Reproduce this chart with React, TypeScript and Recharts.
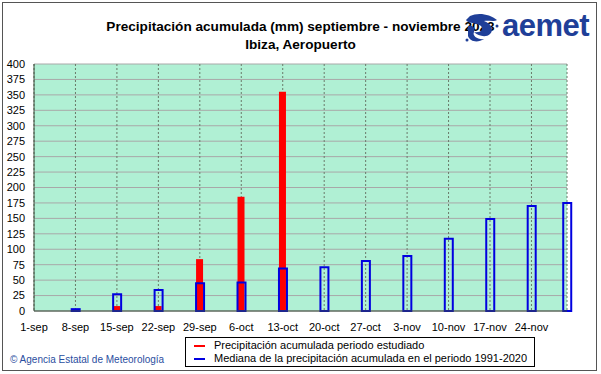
import React from 'react';
import { BarChart, Bar, XAxis, YAxis, CartesianGrid } from 'recharts';

// days since 1 September
const days = [0, 7, 14, 21, 28, 35, 42, 49, 56, 63, 70, 77, 84, 90];
const studied = [0, 0, 8, 8, 84, 185, 355, null, null, null, null, null, null, null];
const median = [0, 3, 27, 34, 45, 46, 69, 71, 81, 89, 117, 149, 170, 175];
const xTicks = [0, 7, 14, 21, 28, 35, 42, 49, 56, 63, 70, 77, 84];
const xTickLabels = ['1-sep', '8-sep', '15-sep', '22-sep', '29-sep', '6-oct', '13-oct', '20-oct', '27-oct', '3-nov', '10-nov', '17-nov', '24-nov'];
const yTicks = [0, 25, 50, 75, 100, 125, 150, 175, 200, 225, 250, 275, 300, 325, 350, 375, 400];

const series = [
  { name: 'Precipitación acumulada periodo estudiado', color: '#ff0000' },
  { name: 'Mediana de la precipitación acumulada en el periodo 1991-2020', color: '#0000e0' },
];

const data = days.map((d, i) => ({ day: d, studied: studied[i], median: median[i] }));

const FONT = '"Liberation Sans", Arial, sans-serif';

function LegendBox() {
  return (
    <div
      style={{
        position: 'absolute',
        left: 185,
        top: 337,
        border: '1px solid #000',
        background: '#fff',
        width: 350,
        height: 30,
        boxSizing: 'border-box',
        padding: '1px 0 0 8px',
        fontFamily: FONT,
        fontSize: 11,
        lineHeight: '13px',
        color: '#000',
      }}
    >
      {series.map((s) => (
        <div key={s.name} style={{ display: 'flex', alignItems: 'center' }}>
          <span style={{ display: 'inline-block', width: 11, height: 2, background: s.color, marginRight: 9 }} />
          <span>{s.name}</span>
        </div>
      ))}
    </div>
  );
}

function Logo() {
  return (
    <div style={{ position: 'absolute', left: 464, top: 12, display: 'flex', alignItems: 'center' }}>
      <svg width={36} height={32} viewBox="0 0 36 32">
        <path d="M6 4 C14 0 26 2 33 8 C30 10 24 8 20 9 C28 12 30 18 26 22 C22 26 14 24 10 20 C16 21 20 18 17 14 C12 10 4 12 2 8 Z" fill="#1f3f98" />
        <path d="M4 14 C8 12 12 16 10 20 C8 24 14 28 20 27 C14 31 6 30 4 24 Z" fill="#1f3f98" />
        <circle cx={3} cy={28} r={1.5} fill="#1f3f98" />
        <circle cx={33} cy={14} r={1.5} fill="#1f3f98" />
      </svg>
      <span style={{ fontFamily: FONT, fontWeight: 700, fontSize: 31, color: '#1f3f98', marginLeft: 2, marginTop: -4, letterSpacing: -0.5 }}>
        aemet
      </span>
    </div>
  );
}

export default function App() {
  return (
    <div style={{ position: 'absolute', left: 0, top: 0, width: 601, height: 374, background: '#fff', fontFamily: FONT }}>
      <div style={{ position: 'absolute', left: 2, top: 2, width: 595, height: 369, border: '1px solid #555', boxSizing: 'border-box' }} />
      <div style={{ position: 'absolute', left: 0, top: 18, width: 601, textAlign: 'center', fontWeight: 700, fontSize: 13.6, lineHeight: '18px', color: '#000' }}>
        <div>Precipitación acumulada (mm) septiembre - noviembre 2023</div>
        <div>Ibiza, Aeropuerto</div>
      </div>
      <div style={{ position: 'absolute', left: 0, top: 0 }}>
        <BarChart width={601} height={374} data={data} margin={{ top: 64, right: 34, bottom: 33, left: 4 }}>
          <CartesianGrid xAxisId="a" yAxisId="l" vertical={false} horizontal stroke="#a8a8a8" fill="#b0f0d4" fillOpacity={1} />
          <CartesianGrid xAxisId="a" yAxisId="l" horizontal={false} vertical stroke="#6a7a6a" strokeDasharray="2 2" />
          <XAxis
            xAxisId="a"
            dataKey="day"
            type="number"
            domain={[0, 90]}
            ticks={xTicks}
            tickFormatter={(v: number) => xTickLabels[xTicks.indexOf(v)]}
            interval={0}
            height={30}
            axisLine={{ stroke: '#3a4a3a' }}
            tickLine={false}
            tick={{ fontSize: 11, fill: '#000', fontFamily: FONT }}
            tickMargin={6}
          />
          <XAxis xAxisId="b" dataKey="day" type="number" domain={[0, 90]} orientation="top" height={0} tick={false} tickLine={false} axisLine={{ stroke: '#3a4a3a' }} />
          <YAxis
            yAxisId="l"
            domain={[0, 400]}
            ticks={yTicks}
            interval={0}
            width={30}
            axisLine={{ stroke: '#3a4a3a' }}
            tickLine={false}
            tick={{ fontSize: 11, fill: '#000', fontFamily: FONT }}
            tickMargin={3}
          />
          <YAxis yAxisId="r" orientation="right" domain={[0, 400]} width={0} tick={false} tickLine={false} axisLine={{ stroke: '#3a4a3a' }} />
          <Bar xAxisId="a" yAxisId="l" dataKey="studied" name={series[0].name} fill={series[0].color} barSize={7} isAnimationActive={false} />
          <Bar xAxisId="b" yAxisId="l" dataKey="median" name={series[1].name} fill="none" stroke={series[1].color} strokeWidth={2} barSize={8} isAnimationActive={false} />
        </BarChart>
      </div>
      <LegendBox />
      <Logo />
      <div style={{ position: 'absolute', left: 10, top: 354, fontSize: 10, color: '#2a4ea0', fontFamily: FONT }}>
        © Agencia Estatal de Meteorología
      </div>
    </div>
  );
}
